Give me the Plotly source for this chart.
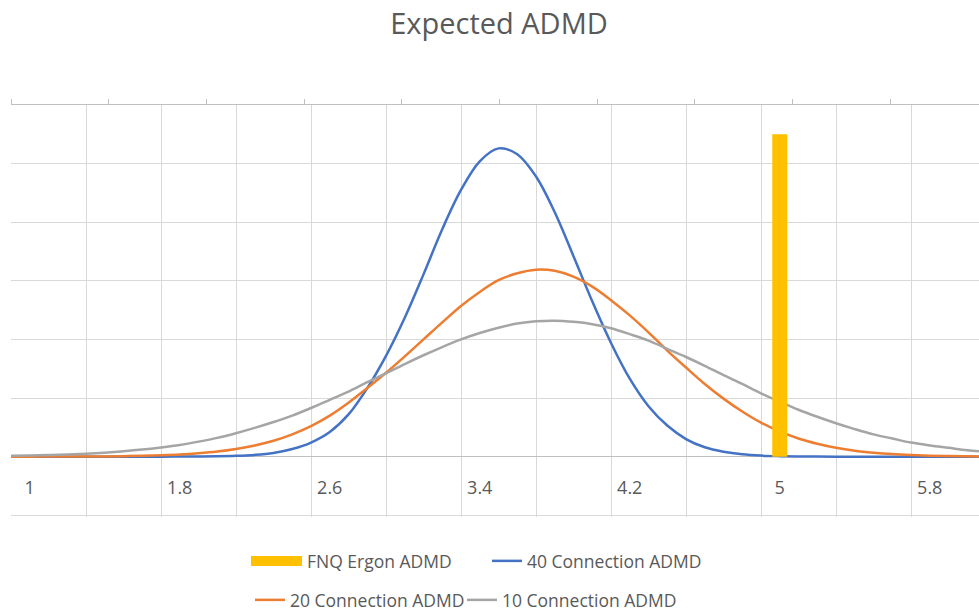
import plotly.graph_objects as go

# ---- data ----
x_vals = [0.9, 1.0, 1.1, 1.2, 1.3, 1.4, 1.5, 1.6, 1.7, 1.8,
          1.9, 2.0, 2.1, 2.2, 2.3, 2.4, 2.5, 2.6, 2.7, 2.8,
          2.9, 3.0, 3.1, 3.2, 3.3, 3.4, 3.5, 3.6, 3.7, 3.8,
          3.9, 4.0, 4.1, 4.2, 4.3, 4.4, 4.5, 4.6, 4.7, 4.8,
          4.9, 5.0, 5.1, 5.2, 5.3, 5.4, 5.5, 5.6, 5.7, 5.8,
          5.9, 6.0, 6.1]

conn40 = [0, 0, 0, 0, 0, 0, 0, 0, 0, 0.001,
          0.002, 0.005, 0.013, 0.03, 0.063, 0.13, 0.24, 0.42, 0.72, 1.17,
          1.72, 2.37, 3.11, 3.88, 4.55, 5.04, 5.26, 5.16, 4.78, 4.17,
          3.42, 2.65, 1.94, 1.33, 0.86, 0.53, 0.30, 0.16, 0.084, 0.04,
          0.018, 0.008, 0.003, 0.001, 0, 0, 0, 0, 0, 0,
          0, 0, 0]

conn20 = [0, 0, 0.001, 0.001, 0.002, 0.004, 0.008, 0.013, 0.022, 0.035,
          0.056, 0.086, 0.13, 0.19, 0.27, 0.38, 0.52, 0.70, 0.92, 1.17,
          1.43, 1.71, 2.00, 2.29, 2.57, 2.81, 3.01, 3.13, 3.19, 3.17,
          3.07, 2.90, 2.67, 2.41, 2.12, 1.81, 1.52, 1.24, 0.99, 0.77,
          0.58, 0.43, 0.31, 0.22, 0.15, 0.10, 0.067, 0.043, 0.027, 0.016,
          0.010, 0.006, 0.003]

conn10 = [0.013, 0.019, 0.027, 0.037, 0.051, 0.068, 0.091, 0.12, 0.157, 0.20,
          0.256, 0.32, 0.40, 0.49, 0.59, 0.70, 0.83, 0.97, 1.11, 1.27,
          1.42, 1.58, 1.73, 1.87, 2.00, 2.11, 2.20, 2.27, 2.31, 2.32,
          2.30, 2.26, 2.19, 2.09, 1.98, 1.84, 1.70, 1.55, 1.39, 1.24,
          1.08, 0.94, 0.80, 0.68, 0.57, 0.47, 0.38, 0.31, 0.24, 0.19,
          0.15, 0.11, 0.086]

fnq_x = [5.0]
fnq_y = [5.5]

tick_vals = [1, 1.8, 2.6, 3.4, 4.2, 5, 5.8]
tick_text = ["1", "1.8", "2.6", "3.4", "4.2", "5", "5.8"]

title_text = "Expected ADMD"
name_fnq = "FNQ Ergon ADMD"
name40 = "40 Connection ADMD"
name20 = "20 Connection ADMD"
name10 = "10 Connection ADMD"

# ---- styling ----
BLUE = "#4472C4"
ORANGE = "#ED7D31"
GRAY = "#A5A5A5"
YELLOW = "#FFC000"
GRID = "#D9D9D9"
AXIS = "#BFBFBF"
TEXT = "#595959"
FONT = "Open Sans"

W, H = 979, 614
ML, MR, MT, MB = 11, 0, 105, 97
px_per_unit = 187.5
x_lo = 0.9
x_hi = x_lo + (W - ML - MR) / px_per_unit
x_range = [x_lo, x_hi]

LINE = dict(width=2.5, shape="spline", smoothing=1.0)

fig = go.Figure()

# legend-only entry for the bar (wide swatch like the original)
fig.add_trace(go.Scatter(x=[None], y=[None], mode="lines", name=name_fnq,
                         line=dict(color=YELLOW, width=10), legend="legend",
                         hoverinfo="skip"))
fig.add_trace(go.Scatter(x=x_vals, y=conn40, mode="lines", name=name40,
                         line=dict(color=BLUE, **LINE), legend="legend3"))
fig.add_trace(go.Scatter(x=x_vals, y=conn20, mode="lines", name=name20,
                         line=dict(color=ORANGE, **LINE), legend="legend2"))
fig.add_trace(go.Scatter(x=x_vals, y=conn10, mode="lines", name=name10,
                         line=dict(color=GRAY, **LINE), legend="legend4"))
# the bar sits on an overlaying axis so it is drawn above the lines
fig.add_trace(go.Bar(x=fnq_x, y=fnq_y, name=name_fnq, width=0.08,
                     marker=dict(color=YELLOW, line=dict(width=0)),
                     xaxis="x2", showlegend=False))
# empty trace that makes the secondary (top) category axis render
fig.add_trace(go.Scatter(x=[None], y=[None], xaxis="x3", showlegend=False,
                         hoverinfo="skip"))

top_unit_px = 97.7


def legend_at(px_x, px_y, itemwidth=30):
    return dict(orientation="h", xref="container", yref="container",
                x=px_x / W, xanchor="left", y=1 - px_y / H, yanchor="middle",
                font=dict(size=17.5, color=TEXT, family=FONT),
                itemwidth=itemwidth, bgcolor="rgba(0,0,0,0)")


fig.update_layout(
    width=W, height=H,
    margin=dict(l=ML, r=MR, t=MT, b=MB, pad=0),
    paper_bgcolor="white", plot_bgcolor="white",
    font=dict(family=FONT, color=TEXT),
    title=dict(text=title_text, x=0.5097, xref="container", xanchor="center",
               y=1 - 24 / H, yref="container", yanchor="middle",
               font=dict(size=29, color=TEXT, family=FONT)),
    showlegend=True,
    xaxis=dict(range=x_range, showgrid=True, gridcolor=GRID, gridwidth=1,
               tick0=0.9, dtick=0.4, showticklabels=False, ticks="",
               zeroline=False, showline=False, fixedrange=True),
    xaxis2=dict(overlaying="x", matches="x", range=x_range, anchor="free",
                position=0.102, side="bottom", showgrid=False, zeroline=False,
                showline=False, ticks="", tickmode="array", tickvals=tick_vals,
                ticktext=tick_text, tickfont=dict(size=18, color=TEXT, family=FONT)),
    xaxis3=dict(overlaying="x", anchor="y", side="top",
                range=[0, (W - ML - MR) / top_unit_px], tick0=0, dtick=1,
                showgrid=False, zeroline=False, showline=True, linecolor=AXIS,
                linewidth=1, ticks="outside", ticklen=5, tickcolor=AXIS,
                showticklabels=False),
    yaxis=dict(range=[-1.03, 6], tick0=0, dtick=1, showgrid=True, gridcolor=GRID,
               gridwidth=1, showticklabels=False, ticks="", zeroline=True,
               zerolinecolor=AXIS, zerolinewidth=1, showline=False),
    legend=legend_at(246, 561, itemwidth=51),
    legend3=legend_at(487, 561),
    legend2=legend_at(250, 600),
    legend4=legend_at(462, 600),
)

fig.write_html("out.html")
